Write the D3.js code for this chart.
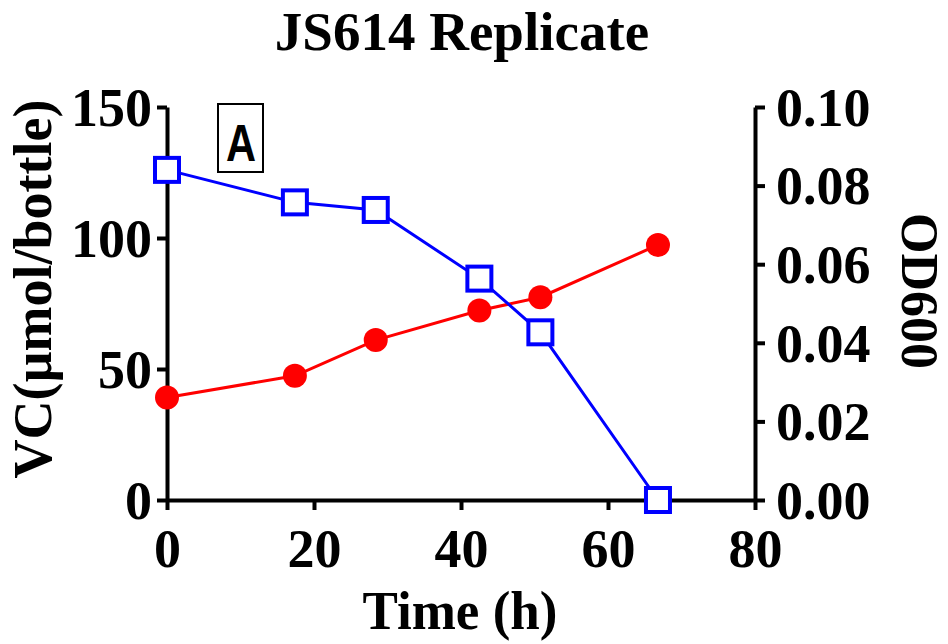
<!DOCTYPE html>
<html>
<head>
<meta charset="utf-8">
<script src="https://cdn.jsdelivr.net/npm/d3@7"></script>
<style>
  html, body { margin: 0; padding: 0; background: #fff; }
  svg { display: block; }
</style>
</head>
<body>
<div id="chart"></div>
<script>
// ── Data ──────────────────────────────────────────────────────────────────
const timeH    = [0, 17.4, 28.4, 42.5, 50.8, 66.8];
const vcValues = [126, 113.6, 110.7, 84.5, 64, 0];                  // µmol/bottle, left axis
const odValues = [0.0261, 0.0316, 0.0407, 0.0482, 0.0516, 0.0649];  // OD600, right axis
const xTicks   = [0, 20, 40, 60, 80];
const yTicks   = [0, 50, 100, 150];
const y2Ticks  = [0, 0.02, 0.04, 0.06, 0.08, 0.10];

const W = 948, H = 644;
const m = { left: 167, right: W - 755, top: 107, bottom: H - 500 };
const FONT = "'Liberation Serif', 'Times New Roman', serif";

const svg = d3.select("#chart").append("svg")
  .attr("width", W).attr("height", H);

const x  = d3.scaleLinear().domain([0, 80]).range([m.left, W - m.right]);
const y  = d3.scaleLinear().domain([0, 150]).range([H - m.bottom, m.top]);
const y2 = d3.scaleLinear().domain([0, 0.10]).range([H - m.bottom, m.top]);

// ── Axes ──────────────────────────────────────────────────────────────────
function styleAxis(g) {
  g.selectAll("path, line").attr("stroke", "#000").attr("stroke-width", 4);
  g.selectAll("text").attr("font-family", FONT).attr("font-weight", "bold")
    .attr("font-size", "54px").attr("fill", "#000");
}

svg.append("g").attr("transform", `translate(0,${H - m.bottom})`)
  .call(d3.axisBottom(x).tickValues(xTicks).tickSize(10).tickSizeOuter(0).tickPadding(19))
  .call(styleAxis);

svg.append("g").attr("transform", `translate(${m.left},0)`)
  .call(d3.axisLeft(y).tickValues(yTicks).tickSize(10).tickSizeOuter(0).tickPadding(5))
  .call(styleAxis)
  .call((g) => g.selectAll("text").attr("dy", "0.34em"));

svg.append("g").attr("transform", `translate(${W - m.right},0)`)
  .call(d3.axisRight(y2).tickValues(y2Ticks).tickFormat(d3.format(".2f"))
    .tickSize(10).tickSizeOuter(0).tickPadding(11))
  .call(styleAxis)
  .call((g) => g.selectAll("text").attr("dy", "0.34em"));

// ── Lines + markers ───────────────────────────────────────────────────────
const vcLine = d3.line().x((d, i) => x(timeH[i])).y((d) => y(d));
const odLine = d3.line().x((d, i) => x(timeH[i])).y((d) => y2(d));

svg.append("path").datum(odValues).attr("d", odLine)
  .attr("fill", "none").attr("stroke", "#ff0000").attr("stroke-width", 3);
svg.append("path").datum(vcValues).attr("d", vcLine)
  .attr("fill", "none").attr("stroke", "#0000ff").attr("stroke-width", 3);

svg.append("g").selectAll("circle").data(odValues).join("circle")
  .attr("cx", (d, i) => x(timeH[i])).attr("cy", (d) => y2(d)).attr("r", 12)
  .attr("fill", "#ff0000");

const sq = 24;
svg.append("g").selectAll("rect").data(vcValues).join("rect")
  .attr("x", (d, i) => x(timeH[i]) - sq / 2).attr("y", (d) => y(d) - sq / 2)
  .attr("width", sq).attr("height", sq)
  .attr("fill", "#fff").attr("stroke", "#0000ff").attr("stroke-width", 4);

// ── Titles ────────────────────────────────────────────────────────────────
svg.append("text").attr("x", 462).attr("y", 50).attr("text-anchor", "middle")
  .attr("font-family", FONT).attr("font-weight", "bold").attr("font-size", "55px")
  .text("JS614 Replicate");

svg.append("text").attr("transform", "translate(460,629) scale(1,1.04)")
  .attr("text-anchor", "middle")
  .attr("font-family", FONT).attr("font-weight", "bold").attr("font-size", "53px")
  .text("Time (h)");

svg.append("text")
  .attr("transform", "translate(51,289) rotate(-90)")
  .attr("text-anchor", "middle")
  .attr("font-family", FONT).attr("font-weight", "bold").attr("font-size", "54px")
  .text("VC(µmol/bottle)");

svg.append("text")
  .attr("transform", "translate(902,291) rotate(90)")
  .attr("text-anchor", "middle")
  .attr("font-family", FONT).attr("font-weight", "bold").attr("font-size", "52px")
  .text("OD600");

// ── Panel label ───────────────────────────────────────────────────────────
svg.append("rect").attr("x", 218).attr("y", 104).attr("width", 45).attr("height", 68)
  .attr("fill", "#fff").attr("stroke", "#000").attr("stroke-width", 2);
svg.append("text").attr("transform", "translate(241,161) scale(0.8,1)")
  .attr("text-anchor", "middle")
  .attr("font-family", "'Liberation Sans', Arial, sans-serif").attr("font-weight", "bold")
  .attr("font-size", "52px").text("A");
</script>
</body>
</html>
